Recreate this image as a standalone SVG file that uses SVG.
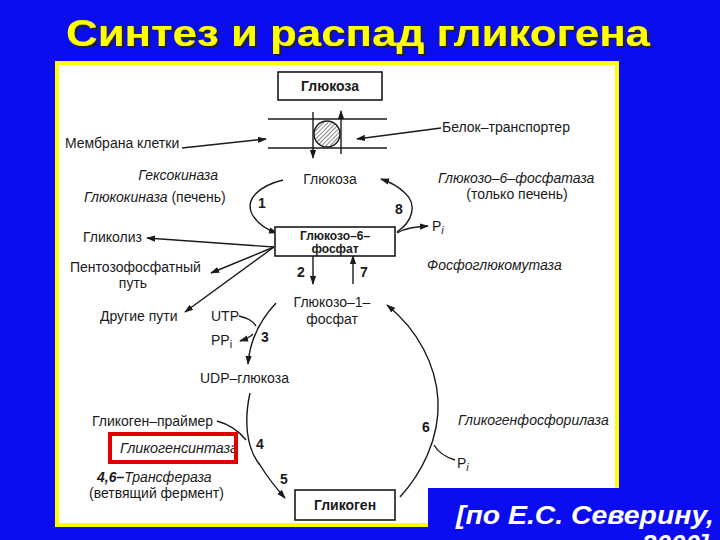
<svg xmlns="http://www.w3.org/2000/svg" width="720" height="540" viewBox="0 0 720 540">
<defs>
<marker id="ah" viewBox="0 0 10 10" refX="9" refY="5" markerWidth="9" markerHeight="9" markerUnits="userSpaceOnUse" orient="auto"><path d="M0,1.5 L10,5 L0,8.5 z" fill="#1a1a1a"/></marker>
<pattern id="hatch" width="3" height="3" patternUnits="userSpaceOnUse" patternTransform="rotate(45)"><line x1="0" y1="0" x2="0" y2="3" stroke="#222" stroke-width="1.1"/></pattern>
<filter id="shadow" x="-5%" y="-20%" width="110%" height="150%"><feDropShadow dx="2" dy="2" stdDeviation="0.6" flood-color="#222" flood-opacity="1"/></filter>
<style>
.t{font-family:"Liberation Sans",Arial,sans-serif;font-size:14px;fill:#1a1a1a}
.i{font-style:italic}
.b{font-weight:bold}
.c{text-anchor:middle}
.bt{font-size:12px}
.ln{fill:none;stroke:#1a1a1a;stroke-width:1.4}
.bx{fill:#fff;stroke:#1a1a1a;stroke-width:1.6}
.ttl{font-family:"Liberation Sans",Arial,sans-serif;font-size:37px;font-weight:bold}
.cit{font-family:"Liberation Sans",Arial,sans-serif;font-size:26px;font-weight:bold;font-style:italic;fill:#fff}
</style>
</defs>
<rect x="0" y="0" width="720" height="540" fill="#0c0cf0"/>
<g id="title">
<text class="ttl" x="66" y="46" fill="#ffff00" filter="url(#shadow)" textLength="584" lengthAdjust="spacingAndGlyphs">Синтез и распад гликогена</text>
</g>
<rect x="57" y="63" width="560" height="462" fill="#fff" stroke="#ffff00" stroke-width="4"/>
<rect x="428" y="488" width="292" height="52" fill="#0c0cf0"/>
<g id="citation">
<text class="cit" x="456" y="524" textLength="258" lengthAdjust="spacingAndGlyphs">[по Е.С. Северину,</text>
<text class="cit" x="642" y="553">2000]</text>
</g>

<g id="connectors">
<path class="ln" d="M182,148 L266,139" marker-end="url(#ah)"/>
<path class="ln" d="M441,128 L357,139" marker-end="url(#ah)"/>
<path class="ln" d="M313,112 L313,158" marker-end="url(#ah)"/>
<path class="ln" d="M341,154 L341,111" marker-end="url(#ah)"/>
<path class="ln" d="M283,180 C258,186 245,200 252,214 C258,225 268,230 277,233" marker-end="url(#ah)"/>
<path class="ln" d="M397,232 C412,222 418,205 405,193 C398,186 390,182 381,179" marker-end="url(#ah)"/>
<path class="ln" d="M397,233 C405,228 415,227 428,226" marker-end="url(#ah)"/>
<path class="ln" d="M274,247 L147,238" marker-end="url(#ah)"/>
<path class="ln" d="M274,247 L211,273" marker-end="url(#ah)"/>
<path class="ln" d="M274,247 L185,312" marker-end="url(#ah)"/>
<path class="ln" d="M313,256 L313,284" marker-end="url(#ah)"/>
<path class="ln" d="M353,284 L353,256" marker-end="url(#ah)"/>
<path class="ln" d="M276,303 C262,318 250,338 248,364" marker-end="url(#ah)"/>
<path class="ln" d="M239,316 C247,318 252,320 256,326"/>
<path class="ln" d="M253,334 C250,337 246,339 240,341" marker-end="url(#ah)"/>
<path class="ln" d="M250,393 C244,420 246,448 260,465 C268,478 276,488 285,498" marker-end="url(#ah)"/>
<path class="ln" d="M217,421 C228,424 238,430 246,440"/>
<path class="ln" d="M400,497 C420,475 440,440 438,400 C436,365 418,330 387,305" marker-end="url(#ah)"/>
<path class="ln" d="M434,445 C438,452 445,457 455,460"/>
</g>

<g id="membrane">
<line class="ln" x1="268" y1="119" x2="387" y2="119"/>
<line class="ln" x1="268" y1="148" x2="387" y2="148"/>
<circle cx="327" cy="134" r="13" fill="url(#hatch)" stroke="#1a1a1a" stroke-width="1.4"/>
<text class="t" x="65" y="148">Мембрана клетки</text>
<text class="t" x="442" y="132">Белок–транспортер</text>
</g>

<g id="glucose-out">
<rect class="bx" x="278" y="72" width="104" height="28"/>
<text class="t b c" x="330" y="91">Глюкоза</text>
</g>
<g id="glucose-in"><text class="t c" x="330" y="184">Глюкоза</text></g>
<g id="hexokinase">
<text class="t i" x="218" y="180" text-anchor="end">Гексокиназа</text>
<text class="t" x="84" y="202"><tspan class="i">Глюкокиназа</tspan> (печень)</text>
<text class="t b" x="258" y="208">1</text>
</g>
<g id="g6pase">
<text class="t i" x="438" y="183">Глюкозо–6–фосфатаза</text>
<text class="t c" x="517" y="199">(только печень)</text>
<text class="t b" x="395" y="214">8</text>
<text class="t" x="432" y="231">P<tspan font-size="11" dy="3" font-style="italic">i</tspan></text>
</g>
<g id="g6p">
<rect class="bx" x="275" y="227" width="120" height="29"/>
<text class="t b c bt" x="335" y="239.5">Глюкозо–6–</text>
<text class="t b c bt" x="335" y="253">фосфат</text>
</g>
<g id="glycolysis"><text class="t" x="83" y="242">Гликолиз</text></g>
<g id="pentose">
<text class="t" x="70" y="272">Пентозофосфатный</text>
<text class="t c" x="133" y="288">путь</text>
</g>
<g id="other"><text class="t" x="100" y="321">Другие пути</text></g>
<g id="pgm">
<text class="t b" x="297" y="277">2</text>
<text class="t b" x="360" y="277">7</text>
<text class="t i" x="427" y="270">Фосфоглюкомутаза</text>
</g>
<g id="g1p">
<text class="t c" x="332" y="307">Глюкозо–1–</text>
<text class="t c" x="332" y="324">фосфат</text>
</g>
<g id="utp">
<text class="t" x="211" y="321">UTP</text>
<text class="t" x="211" y="345">PP<tspan font-size="11" dy="3">i</tspan></text>
<text class="t b" x="261" y="342">3</text>
</g>
<g id="udpg"><text class="t" x="200" y="383">UDP–глюкоза</text></g>
<g id="primer"><text class="t" x="92" y="426">Гликоген–праймер</text></g>
<g id="synthase">
<text class="t i" x="120" y="453" textLength="118" lengthAdjust="spacingAndGlyphs">Гликогенсинтаза</text>
<rect x="110" y="434" width="126" height="28" fill="none" stroke="#e00000" stroke-width="4"/>
<text class="t b" x="256" y="449">4</text>
</g>
<g id="transferase">
<text class="t" x="97" y="482"><tspan class="b i">4,6–</tspan><tspan class="i">Трансфераза</tspan></text>
<text class="t" x="89" y="498">(ветвящий фермент)</text>
<text class="t b" x="280" y="484">5</text>
</g>
<g id="glycogen">
<rect class="bx" x="295" y="490" width="100" height="30"/>
<text class="t b c" x="345" y="510">Гликоген</text>
</g>
<g id="phosphorylase">
<text class="t b" x="422" y="432">6</text>
<text class="t i" x="458" y="425">Гликогенфосфорилаза</text>
<text class="t" x="457" y="468">P<tspan font-size="11" dy="3" font-style="italic">i</tspan></text>
</g>
</svg>
